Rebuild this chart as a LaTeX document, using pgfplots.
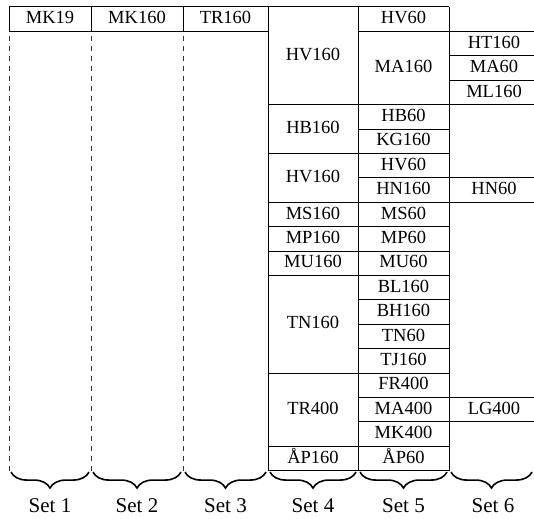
\documentclass[border=0pt]{standalone}
\usepackage{fontspec}
\setmainfont{Liberation Serif}
\usepackage{pgfplots}
\pgfplotsset{compat=1.18}
\usetikzlibrary{decorations.pathreplacing}
\begin{document}
\begin{tikzpicture}
\begin{axis}[
  width=534pt, height=518pt, scale only axis,
  xmin=0, xmax=534, ymin=-0.2869, ymax=20.9426, y dir=reverse,
  hide axis, clip=false, unbounded coords=jump,
]
% solid grid lines
\addplot[black, line width=1pt, mark=none] table {
x y
9 0
449 0
nan nan
9 1
268 1
nan nan
358 1
534 1
nan nan
9 0
9 1
nan nan
91 0
91 1
nan nan
183 0
183 1
nan nan
268 0
268 19
nan nan
358 0
358 19
nan nan
449 0
449 19
nan nan
449 2
534 2
nan nan
449 3
534 3
nan nan
268 4
534 4
nan nan
358 5
449 5
nan nan
268 6
449 6
nan nan
358 7
534 7
nan nan
268 8
534 8
nan nan
268 9
449 9
nan nan
268 10
449 10
nan nan
268 11
449 11
nan nan
358 12
449 12
nan nan
358 13
449 13
nan nan
358 14
449 14
nan nan
268 15
449 15
nan nan
358 16
534 16
nan nan
358 17
534 17
nan nan
268 18
449 18
nan nan
268 19
449 19
};
% dashed lines
\addplot[black!80, line width=0.8pt, dash pattern=on 5pt off 5pt, mark=none] table {
x y
9 1.19
9 19
nan nan
91 1.19
91 19
nan nan
183 1.19
183 19
};
% braces
\addplot[black, line width=1.6pt, decorate, decoration={brace, mirror, amplitude=16pt}] coordinates {(11,19.06) (89,19.06)};
\addplot[black, line width=1.6pt, decorate, decoration={brace, mirror, amplitude=16pt}] coordinates {(93,19.06) (181,19.06)};
\addplot[black, line width=1.6pt, decorate, decoration={brace, mirror, amplitude=16pt}] coordinates {(185,19.06) (266,19.06)};
\addplot[black, line width=1.6pt, decorate, decoration={brace, mirror, amplitude=16pt}] coordinates {(270,19.06) (356,19.06)};
\addplot[black, line width=1.6pt, decorate, decoration={brace, mirror, amplitude=16pt}] coordinates {(360,19.06) (447,19.06)};
\addplot[black, line width=1.6pt, decorate, decoration={brace, mirror, amplitude=16pt}] coordinates {(451,19.06) (532,19.06)};
% cell labels
\addplot[draw=none, mark=none, nodes near coords, point meta=explicit symbolic,
  every node near coord/.append style={anchor=base, inner sep=0pt, text=black, font=\fontsize{18.5}{21}\selectfont}]
  table[meta=label] {
x y label
50 0.69 MK19
137 0.69 MK160
225.5 0.69 TR160
313 2.19 HV160
313 5.19 HB160
313 7.19 HV160
313 8.69 MS160
313 9.69 MP160
313 10.69 MU160
313 13.19 TN160
313 16.69 TR400
313 18.69 ÅP160
403.5 0.69 HV60
403.5 2.69 MA160
403.5 4.69 HB60
403.5 5.69 KG160
403.5 6.69 HV60
403.5 7.69 HN160
403.5 8.69 MS60
403.5 9.69 MP60
403.5 10.69 MU60
403.5 11.69 BL160
403.5 12.69 BH160
403.5 13.69 TN60
403.5 14.69 TJ160
403.5 15.69 FR400
403.5 16.69 MA400
403.5 17.69 MK400
403.5 18.69 ÅP60
494 1.69 HT160
494 2.69 MA60
494 3.69 ML160
494 7.69 HN60
494 16.69 LG400
};
% set labels
\addplot[draw=none, mark=none, nodes near coords, point meta=explicit symbolic,
  every node near coord/.append style={anchor=base, inner sep=0pt, text=black, font=\fontsize{21}{25}\selectfont}]
  table[meta=label] {
x y label
50 20.72 {Set 1}
137 20.72 {Set 2}
225.5 20.72 {Set 3}
313 20.72 {Set 4}
403.5 20.72 {Set 5}
493 20.72 {Set 6}
};
\end{axis}
\pgfresetboundingbox
\path (current axis.south west) rectangle (current axis.north east);
\end{tikzpicture}
\end{document}
